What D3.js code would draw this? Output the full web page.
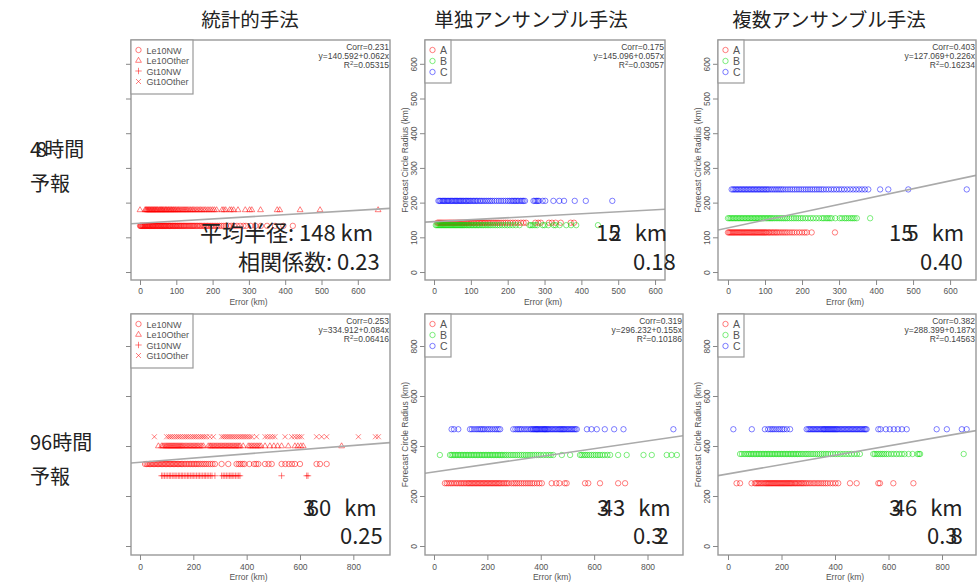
<!DOCTYPE html>
<html>
<head>
<meta charset="utf-8">
<script src="https://cdn.jsdelivr.net/npm/d3@7"></script>
<style>
  body { margin: 0; background: #fff; }
  svg { display: block; }
  .tick text { font-family: "Liberation Sans", Arial, sans-serif; fill: #555; }
  .tick line { stroke: #888; }
</style>
</head>
<body>
<svg id="chart" width="977" height="584"></svg>
<script>
// ---- labels ----
const columnTitles = ["統計的手法", "単独アンサンブル手法", "複数アンサンブル手法"];
const rowTitles = [["48時間", "予報"], ["96時間", "予報"]];
const statLegend = ["Le10NW", "Le10Other", "Gt10NW", "Gt10Other"];
const ensLegend = ["A", "B", "C"];
const xTicksTop = [0, 100, 200, 300, 400, 500, 600];
const yTicksTop = [0, 100, 200, 300, 400, 500, 600];
const xTicksBottom = [0, 200, 400, 600, 800];
const yTicksBottom = [0, 200, 400, 600, 800];

// ---- regression summaries (corr, intercept, slope, R^2 as printed) ----
const fitCorr = ["0.231", "0.175", "0.403", "0.253", "0.319", "0.382"];
const fitIntercept = [140.592, 145.096, 127.069, 334.912, 296.232, 288.399];
const fitSlope = [0.062, 0.057, 0.226, 0.084, 0.155, 0.187];
const fitR2 = ["0.05315", "0.03057", "0.16234", "0.06416", "0.10186", "0.14563"];

// ---- mean radius / correlation headline numbers ----
const meanRadius = ["148", "152", "155", "360", "343", "346"];
const corrShort = ["0.23", "0.18", "0.40", "0.25", "0.32", "0.38"];

// ---- 48h statistical method: error (km) per class, radius per class ----
const st48Le10NW = [0,2,3,5,7,8,10,12,13,15,17,19,20,22,24,26,27,29,31,33,35,36,38,40,42,44,46,48,50,52,54,56,58,60,62,64,66,68,70,72,74,77,79,81,83,85,88,90,92,95,97,99,102,104,107,109,112,114,117,120,122,125,128,131,134,137,140,143,146,149,152,156,159,163,166,170,174,178,182,186,190,195,199,204,209,214,219,225,231,237,244,251,259,267,276,285,292,305,318,333,350,372,395,421];
const st48Le10Other = [0,14,16,18,20,22,24,26,28,30,32,34,36,38,40,42,44,46,48,50,53,55,57,59,61,63,65,68,70,72,74,77,79,81,84,86,88,91,93,96,98,101,104,106,109,112,115,118,121,124,127,130,133,137,140,144,147,151,155,159,163,167,171,176,180,185,190,195,200,205,211,226,231,236,247,252,258,270,290,302,308,332,378,385,441,496,656];
const st48Radius = { Le10NW: 133, Le10Other: 179 };

// ---- 48h single ensemble ----
const se48A = [9,12,15,18,21,24,27,30,33,36,39,42,45,48,51,54,57,60,63,66,69,72,75,78,81,84,87,90,93,96,100,103,107,110,114,118,122,126,130,134,138,142,147,151,156,161,166,171,176,182,188,194,200,207,214,221,228,236,243,250,275,283,290,312,320,330,344,371,380];
const se48B = [5,8,11,14,17,20,23,26,29,32,35,38,41,44,47,50,53,56,59,62,65,68,71,74,77,80,83,87,90,94,97,101,105,109,113,117,121,125,130,134,139,144,149,154,160,166,172,178,185,192,199,206,214,222,232,259,263,268,274,280,295,300,310,325,330,341,359,372,386,445];
const se48C = [12,15,18,22,25,28,31,35,38,41,45,48,51,55,58,61,64,68,71,74,78,81,85,88,92,95,99,103,107,111,115,119,124,128,133,138,143,148,153,158,164,170,176,182,188,194,200,205,210,214,218,222,226,230,235,239,243,247,270,274,278,282,285,295,302,324,340,353,382,412,484];
const se48Radius = [142, 135, 205];

// ---- 48h multiple ensemble ----
const me48A = [0,3,6,9,12,15,18,21,24,27,30,33,36,39,42,45,48,51,54,57,60,63,66,69,72,75,78,81,84,87,90,93,96,99,102,105,109,112,116,120,124,128,132,136,141,146,151,156,161,167,173,179,186,193,200,207,213,226,289];
const me48B = [0,4,8,12,16,20,24,28,32,36,40,44,48,52,56,60,64,68,72,76,80,84,88,92,96,100,104,108,112,116,120,125,130,135,140,145,150,155,160,166,172,178,184,190,196,202,209,216,223,230,238,246,254,259,265,270,275,280,290,302,308,315,320,326,332,337,342,348,384];
const me48C = [10,14,18,22,26,30,34,38,42,46,50,54,58,62,66,70,74,78,82,86,90,94,98,102,106,110,115,120,125,130,135,140,145,150,156,162,168,174,180,186,192,198,204,210,216,222,228,234,240,246,252,258,265,272,279,286,293,300,307,314,322,330,338,346,354,362,370,379,411,433,487,645];
const me48Radius = [114, 155, 238];

// ---- 96h statistical method ----
const st96Le10NW = [19,25,30,35,40,45,50,55,60,65,70,75,80,85,90,95,100,105,110,115,120,125,130,135,140,145,150,155,160,166,172,178,184,190,196,202,208,214,220,227,234,241,248,256,264,272,281,306,331,362,370,377,385,392,410,428,436,444,469,482,494,531,545,558,570,581,600,662,675,700];
const st96Le10Other = [69,81,86,91,96,100,104,108,112,116,120,124,128,132,136,140,144,148,152,156,160,165,170,175,180,185,190,195,200,205,210,215,220,226,232,238,256,262,266,271,276,281,286,291,296,301,306,311,316,321,326,331,336,341,346,351,356,361,366,371,376,387,406,412,418,424,430,436,442,448,454,469,487,502,516,531,556,581,592,603,612,756];
const st96Gt10NW = [81,86,92,98,104,110,115,121,127,132,138,144,149,155,160,166,172,178,183,189,195,200,206,212,218,223,229,235,241,246,252,258,264,270,281,306,312,318,324,330,336,341,346,352,358,364,370,375,531,625,630];
const st96Gt10Other = [54,100,108,115,122,130,138,145,152,160,168,175,182,190,198,205,212,220,228,235,242,250,262,275,306,313,320,327,334,341,348,355,362,369,376,383,390,397,404,412,420,437,469,478,488,497,506,544,569,580,590,598,606,662,681,700,819,883,894];
const st96Radius = { Le10NW: 328, Le10Other: 400, Gt10NW: 281, Gt10Other: 437 };

// ---- 96h single ensemble ----
const se96A = [41,48,55,62,68,75,82,88,95,101,107,113,119,125,130,135,140,145,150,155,160,165,170,175,180,185,190,195,200,205,210,215,220,225,230,235,240,245,250,256,262,268,274,280,290,298,305,312,320,328,336,344,352,360,368,376,386,395,404,441,458,470,490,497,566,578,622,690,716];
const se96B = [22,60,66,72,78,84,90,96,102,108,114,120,126,132,138,144,150,156,162,168,174,180,186,192,198,204,210,216,222,228,234,240,246,252,258,265,272,280,288,296,304,312,320,328,336,344,352,360,368,376,384,392,400,410,420,430,438,447,479,510,547,553,560,567,574,582,590,598,606,614,622,631,640,650,660,690,722,785,816,872,890,910];
const se96C = [66,75,91,135,142,150,158,165,172,178,184,190,198,205,212,220,228,235,242,248,297,305,312,318,324,330,338,345,352,360,365,370,374,378,382,385,388,392,396,400,404,408,412,415,418,422,426,430,435,440,445,450,455,460,465,470,474,478,482,486,490,495,500,505,510,515,520,525,530,535,573,590,610,640,675,710,897];
const se96Radius = [251, 364, 467];

// ---- 96h multiple ensemble ----
const me96A = [32,45,88,100,105,110,115,120,125,130,135,140,144,148,152,156,160,164,168,172,176,180,184,188,192,196,200,204,208,212,216,220,224,228,232,236,240,245,250,254,259,264,269,274,279,284,290,296,303,310,318,325,333,340,348,356,364,372,382,392,402,412,456,481,562,568,618,693];
const me96B = [45,52,60,67,74,80,86,92,98,104,110,116,122,128,134,140,146,152,158,164,170,176,182,188,194,200,206,212,218,224,230,236,242,248,254,260,266,273,280,288,295,302,310,318,326,334,342,350,358,366,374,383,392,401,410,420,430,441,452,462,472,482,493,543,549,556,563,570,577,584,592,600,610,620,630,640,650,660,675,690,708,714,718,881];
const me96C = [20,89,138,150,158,165,172,180,188,195,203,210,220,232,294,300,305,310,315,320,325,330,335,340,345,350,355,358,362,366,370,374,378,382,386,390,394,398,402,406,410,415,420,425,430,435,440,445,450,455,460,465,470,475,480,485,490,495,500,505,510,514,518,562,570,590,605,620,635,650,668,780,818,874,892];
const me96Radius = [251, 368, 467];

// ---- drawing ----
const svg = d3.select("#chart");
const JP = "'Noto Sans CJK JP', 'Noto Sans', sans-serif";
const LAT = "'Liberation Sans', Arial, sans-serif";

const RED = "rgba(255,0,0,0.5)", GREEN = "rgba(0,220,0,0.5)", BLUE = "rgba(0,0,255,0.5)";

// panel frames and axis domains
const panels = [
  { box: [131, 40, 390, 280], xd: [-24.8, 688.7], yd: [-23, 668.6], xt: xTicksTop, yt: yTicksTop, yLabels: false, kind: "stat" },
  { box: [425, 40, 665, 280], xd: [-24.5, 627], yd: [-23, 668.6], xt: xTicksTop, yt: yTicksTop, yLabels: true, kind: "ens" },
  { box: [718, 40, 976, 280], xd: [-27, 670], yd: [-23, 668.6], xt: xTicksTop, yt: yTicksTop, yLabels: true, kind: "ens" },
  { box: [131, 314, 390, 555], xd: [-33.7, 937.5], yd: [-36, 928], xt: xTicksBottom, yt: yTicksBottom, yLabels: false, kind: "stat" },
  { box: [425, 314, 683, 555], xd: [-33.7, 933], yd: [-36, 928], xt: xTicksBottom, yt: yTicksBottom, yLabels: true, kind: "ens" },
  { box: [718, 314, 976, 555], xd: [-37.4, 927], yd: [-36, 928], xt: xTicksBottom, yt: yTicksBottom, yLabels: true, kind: "ens" }
];

const shapes = {
  circle: "M2.7,0A2.7,2.7 0 1,1 -2.7,0A2.7,2.7 0 1,1 2.7,0Z",
  triangle: "M0,-3.2L2.9,1.8L-2.9,1.8Z",
  plus: "M-3.2,0H3.2M0,-3.2V3.2",
  cross: "M-2.5,-2.5L2.5,2.5M-2.5,2.5L2.5,-2.5"
};

function seriesFor(i) {
  const cls = ["circle", "triangle", "plus", "cross"];
  switch (i) {
    case 0: return [
      { xs: st48Le10NW, y: st48Radius.Le10NW, color: RED, shape: "circle" },
      { xs: st48Le10Other, y: st48Radius.Le10Other, color: RED, shape: "triangle" }];
    case 1: return [
      { xs: se48A, y: se48Radius[0], color: RED, shape: "circle" },
      { xs: se48B, y: se48Radius[1], color: GREEN, shape: "circle" },
      { xs: se48C, y: se48Radius[2], color: BLUE, shape: "circle" }];
    case 2: return [
      { xs: me48A, y: me48Radius[0], color: RED, shape: "circle" },
      { xs: me48B, y: me48Radius[1], color: GREEN, shape: "circle" },
      { xs: me48C, y: me48Radius[2], color: BLUE, shape: "circle" }];
    case 3: return [
      { xs: st96Le10NW, y: st96Radius.Le10NW, color: RED, shape: cls[0] },
      { xs: st96Le10Other, y: st96Radius.Le10Other, color: RED, shape: cls[1] },
      { xs: st96Gt10NW, y: st96Radius.Gt10NW, color: RED, shape: cls[2] },
      { xs: st96Gt10Other, y: st96Radius.Gt10Other, color: RED, shape: cls[3] }];
    case 4: return [
      { xs: se96A, y: se96Radius[0], color: RED, shape: "circle" },
      { xs: se96B, y: se96Radius[1], color: GREEN, shape: "circle" },
      { xs: se96C, y: se96Radius[2], color: BLUE, shape: "circle" }];
    default: return [
      { xs: me96A, y: me96Radius[0], color: RED, shape: "circle" },
      { xs: me96B, y: me96Radius[1], color: GREEN, shape: "circle" },
      { xs: me96C, y: me96Radius[2], color: BLUE, shape: "circle" }];
  }
}

panels.forEach((p, i) => {
  const [x0, y0, x1, y1] = p.box;
  const x = d3.scaleLinear().domain(p.xd).range([x0, x1]);
  const y = d3.scaleLinear().domain(p.yd).range([y1, y0]);
  const g = svg.append("g");

  const clipId = "clip" + i;
  svg.append("clipPath").attr("id", clipId)
    .append("rect").attr("x", x0).attr("y", y0).attr("width", x1 - x0).attr("height", y1 - y0);

  // points
  const pg = g.append("g").attr("clip-path", `url(#${clipId})`);
  seriesFor(i).forEach(s => {
    pg.selectAll(null).data(s.xs).enter().append("path")
      .attr("d", shapes[s.shape])
      .attr("transform", d => `translate(${x(d)},${y(s.y)})`)
      .attr("fill", "none").attr("stroke", s.color).attr("stroke-width", 1);
  });

  // fitted line
  pg.append("line")
    .attr("x1", x(p.xd[0])).attr("y1", y(fitIntercept[i] + fitSlope[i] * p.xd[0]))
    .attr("x2", x(p.xd[1])).attr("y2", y(fitIntercept[i] + fitSlope[i] * p.xd[1]))
    .attr("stroke", "#aaa").attr("stroke-width", 1.6);

  // frame
  g.append("rect").attr("x", x0).attr("y", y0).attr("width", x1 - x0).attr("height", y1 - y0)
    .attr("fill", "none").attr("stroke", "#999").attr("stroke-width", 1.4);

  // x axis
  const xa = g.append("g").attr("transform", `translate(0,${y1})`)
    .call(d3.axisBottom(x).tickValues(p.xt).tickSize(5).tickSizeOuter(0).tickPadding(i < 3 ? 3 : 4));
  xa.select(".domain").remove();
  xa.selectAll("text").attr("font-size", 8.5);
  g.append("text").attr("x", (x0 + x1) / 2 + (i % 3 === 0 ? -12 : -2)).attr("y", y1 + 25)
    .attr("text-anchor", "middle").attr("font-family", LAT).attr("font-size", 8.5).attr("fill", "#555")
    .text("Error (km)");

  // y axis
  const ya = g.append("g").attr("transform", `translate(${x0},0)`)
    .call(d3.axisLeft(y).tickValues(p.yt).tickSize(5).tickSizeOuter(0));
  ya.select(".domain").remove();
  if (p.yLabels) {
    ya.selectAll("text").attr("font-size", 8.5).attr("transform", "rotate(-90)")
      .attr("x", 0).attr("y", -8.5).attr("dy", null).attr("text-anchor", "middle");
    g.append("text")
      .attr("transform", `translate(${x0 - 17},${(y0 + y1) / 2}) rotate(-90)`)
      .attr("text-anchor", "middle").attr("font-family", LAT).attr("font-size", 8.5).attr("fill", "#555")
      .text("Forecast Circle Radius (km)");
  } else {
    ya.selectAll("text").remove();
  }

  // fit summary (top-right)
  const st = g.append("text").attr("text-anchor", "end").attr("font-family", LAT)
    .attr("font-size", 8.5).attr("fill", "#444");
  st.append("tspan").attr("x", x1 - 1).attr("y", y0 + 10).text("Corr=" + fitCorr[i]);
  st.append("tspan").attr("x", x1 - 1).attr("y", y0 + 19)
    .text(`y=${fitIntercept[i].toFixed(3)}+${fitSlope[i].toFixed(3)}x`);
  const r2 = st.append("tspan").attr("x", x1 - 1).attr("y", y0 + 27.5);
  r2.append("tspan").text("R");
  r2.append("tspan").attr("font-size", 6).attr("dy", -3).text("2");
  r2.append("tspan").attr("dy", 3).text("=" + fitR2[i]);

  // legend
  const labels = p.kind === "stat" ? statLegend : ensLegend;
  const lw = p.kind === "stat" ? 62 : 26;
  const lh = p.kind === "stat" ? 54 : 43;
  g.append("rect").attr("x", x0).attr("y", y0).attr("width", lw).attr("height", lh)
    .attr("fill", "#fff").attr("stroke", "#999").attr("stroke-width", 1.2);
  const step = p.kind === "stat" ? 10.5 : 11;
  labels.forEach((lab, k) => {
    const ly = y0 + 10 + k * step;
    const shape = p.kind === "stat" ? ["circle", "triangle", "plus", "cross"][k] : "circle";
    const color = p.kind === "stat" ? RED : [RED, GREEN, BLUE][k];
    g.append("path").attr("d", shapes[shape]).attr("transform", `translate(${x0 + 7.5},${ly})`)
      .attr("fill", "none").attr("stroke", color).attr("stroke-width", 1);
    g.append("text").attr("x", x0 + (p.kind === "stat" ? 15.5 : 15)).attr("y", ly + 3.5)
      .attr("font-family", LAT).attr("font-size", p.kind === "stat" ? 9 : 10.5).attr("fill", "#555")
      .text(lab);
  });
});

// headline numbers: mean radius and correlation per panel
function drawDigits(x, y, parts) {
  const t = svg.append("text").attr("x", x).attr("y", y)
    .attr("font-family", JP).attr("font-size", 22).attr("fill", "#222");
  parts.forEach(([txt, dx]) => t.append("tspan").attr("dx", dx).text(txt));
  return t;
}
const rm = meanRadius, rc = corrShort;
drawDigits(200, 241, [["平均半径: " + rm[0] + " km", 0]]);
drawDigits(238, 269.5, [["相関係数: " + rc[0], 0]]);
drawDigits(596, 241, [[rm[1].slice(0, 2), 0], [rm[1].slice(2), -11], ["km", 13]]);
drawDigits(633, 269.5, [[rc[1], 0]]);
drawDigits(889, 241, [[rm[2].slice(0, 2), 0], [rm[2].slice(2), -7], ["km", 13]]);
drawDigits(920, 269.5, [[rc[2], 0]]);
drawDigits(303, 516, [[rm[3].slice(0, 1), 0], [rm[3].slice(1), -8.5], ["km", 13]]);
drawDigits(340, 544, [[rc[3], 0]]);
drawDigits(597, 516, [[rm[4].slice(0, 1), 0], [rm[4].slice(1), -8.5], ["km", 13]]);
drawDigits(633, 544, [[rc[4].slice(0, 3), 0], [rc[4].slice(3), -7]]);
drawDigits(889, 516, [[rm[5].slice(0, 1), 0], [rm[5].slice(1), -8.5], ["km", 13]]);
drawDigits(927, 544, [[rc[5].slice(0, 3), 0], [rc[5].slice(3), -7]]);

// column titles
const colCenters = [250, 531, 829];
columnTitles.forEach((t, k) => {
  svg.append("text").attr("x", colCenters[k]).attr("y", 27).attr("text-anchor", "middle")
    .attr("font-family", JP).attr("font-size", 19.5).attr("fill", "#222").text(t);
});

// row titles (the 48h label sets its two digits tight together)
const rowBase = [157, 450];
rowTitles.forEach((lines, k) => {
  lines.forEach((t, j) => {
    const tx = svg.append("text").attr("x", 30).attr("y", rowBase[k] + j * 34)
      .attr("font-family", JP).attr("font-size", 20).attr("fill", "#222");
    if (k === 0 && j === 0) {
      tx.append("tspan").text(t.slice(0, 1));
      tx.append("tspan").attr("dx", -5).text(t.slice(1, 2));
      tx.append("tspan").attr("dx", -3).text(t.slice(2));
    } else {
      tx.text(t);
    }
  });
});
</script>
</body>
</html>
